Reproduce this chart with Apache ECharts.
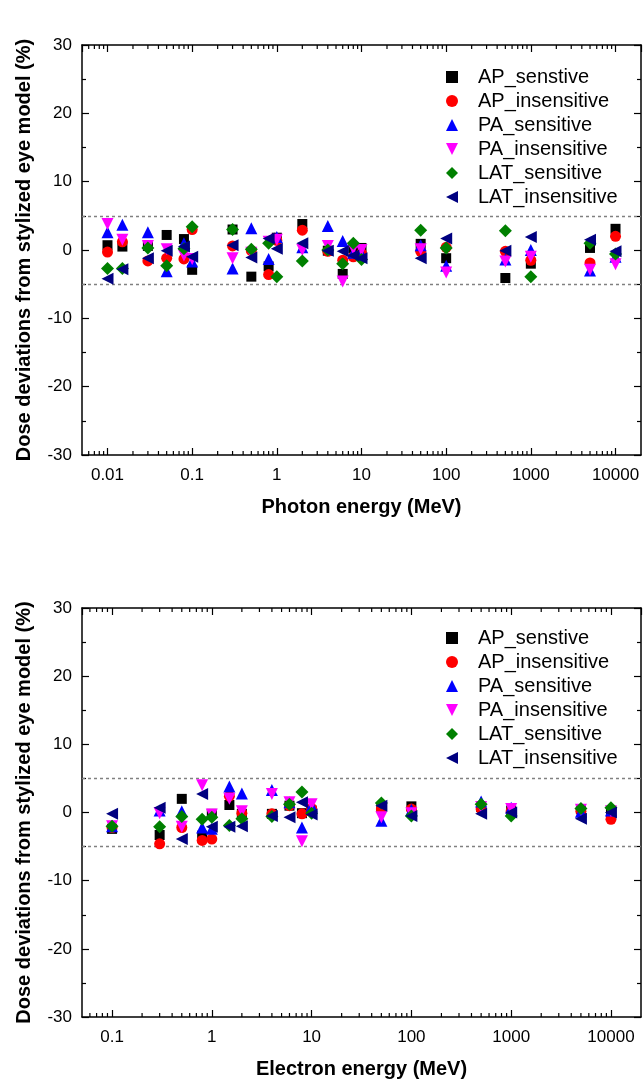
<!DOCTYPE html>
<html>
<head>
<meta charset="utf-8">
<script src="https://cdn.jsdelivr.net/npm/echarts@6/dist/echarts.min.js"></script>
<style>
html,body{margin:0;padding:0;background:#fff;}
#chart{width:644px;height:1084px;}
</style>
</head>
<body>
<div id="chart"></div>
<script>
// ---------- data ----------
const seriesNames = ['AP_senstive','AP_insensitive','PA_sensitive','PA_insensitive','LAT_sensitive','LAT_insensitive'];

// Photon (top panel)
const photonEnergy = [0.01, 0.015, 0.03, 0.05, 0.08, 0.1, 0.3, 0.5, 0.8, 1, 2, 4, 6, 8, 10, 50, 100, 500, 1000, 5000, 10000];
const photonAPs  = [0.7, 0.5, 0.6, 2.2, 1.6, -2.9, 3.0, -3.9, -2.4, 1.8, 3.8, -0.1, -3.5, 0.3, 0.3, 0.9, -1.2, -4.1, -2.0, 0.3, 3.1];
const photonAPi  = [-0.3, 1.2, -1.6, -1.2, -1.3, 3.0, 0.6, -0.1, -3.6, 1.4, 2.9, -0.2, -1.5, -1.0, -0.5, -0.2, 0.4, -0.2, -1.5, -1.9, 2.0];
const photonPAs  = [2.6, 3.7, 2.6, -3.1, 1.0, -1.7, -2.7, 3.2, -1.3, 1.9, 0.4, 3.5, 1.3, -0.4, -0.6, 0.7, -2.3, -1.4, 0.0, -3.0, -1.0];
const photonPAi  = [3.8, 1.5, 0.6, 0.1, -0.8, -1.3, -1.2, -0.4, 1.2, 1.5, 0.0, 0.6, -4.6, 0.2, 0.0, 0.1, -3.3, -1.7, -1.0, -2.9, -2.1];
const photonLATs = [-2.7, -2.7, 0.3, -2.3, 0.2, 3.4, 3.0, 0.1, 1.0, -3.9, -1.6, 0.0, -2.0, 1.0, -1.4, 2.9, 0.3, 2.8, -3.9, 1.0, -0.6];
const photonLATi = [-4.2, -2.8, -1.2, -0.1, 0.5, -1.0, 0.7, -1.1, 1.7, 0.2, 1.0, -0.1, -0.2, -0.8, -1.2, -1.2, 1.7, -0.1, 1.9, 1.5, -0.2];

// Electron (bottom panel)
const electronEnergy = [0.1, 0.3, 0.5, 0.8, 1, 1.5, 2, 4, 6, 8, 10, 50, 100, 500, 1000, 5000, 10000];
const electronAPs  = [-2.4, -3.3, 2.0, -3.4, -0.2, 1.1, -0.2, -0.2, 1.0, -0.1, 0.3, 0.8, 0.9, 0.8, 0.3, 0.5, 0.1];
const electronAPi  = [-2.2, -4.6, -2.2, -4.1, -3.9, 2.4, -0.1, -0.2, 1.0, -0.2, 0.6, 0.5, 0.5, 0.5, 0.2, 0.2, -1.0];
const electronPAs  = [-2.0, 0.3, 0.2, -2.2, -2.4, 3.8, 2.8, 3.3, 1.5, -2.2, 1.0, -1.2, 0.4, 1.6, 0.7, 0.1, 0.3];
const electronPAi  = [-2.0, -0.1, -2.1, 4.0, -0.3, 2.0, 0.2, 2.7, 1.5, -4.2, 1.2, -0.7, -0.1, 0.8, 0.5, 0.4, 0.2];
const electronLATs = [-2.0, -2.1, -0.6, -1.0, -0.7, -1.9, -0.9, -0.6, 1.2, 3.0, -0.1, 1.4, -0.5, 1.2, -0.5, 0.6, 0.7];
const electronLATi = [-0.2, 0.7, -3.9, 2.7, -2.1, -2.1, -2.0, -0.5, -0.7, 1.5, -0.3, 1.0, -0.5, -0.2, 0.0, -0.9, 0.0];

// axis settings
const yMin = -30, yMax = 30, yInterval = 10;
const refLines = [5, -5];
const photonXRange = [0.005, 20000];
const electronXRange = [0.05, 20000];
const xTitles = ['Photon energy (MeV)', 'Electron energy (MeV)'];
const yTitle = 'Dose deviations from stylized eye model (%)';

// ---------- styles ----------
const DOWN_TRI = 'path://M0,0 L10,0 L5,10 Z';
const LEFT_TRI = 'path://M10,0 L10,10 L0,5 Z';
const styles = [
  {symbol:'rect', size:10, rotate:0, color:'#000000', icon:'rect'},
  {symbol:'circle', size:11, rotate:0, color:'#ff0000', icon:'circle'},
  {symbol:'triangle', size:12, rotate:0, color:'#0000ff', icon:'triangle'},
  {symbol:'triangle', size:12, rotate:180, color:'#ff00ff', icon:DOWN_TRI},
  {symbol:'diamond', size:13, rotate:0, color:'#008000', icon:'diamond'},
  {symbol:'triangle', size:12, rotate:90, color:'#000080', icon:LEFT_TRI}
];
const FONT = 'Liberation Sans, Arial, sans-serif';

function minorTickValues(range){
  const out = [];
  for (let p = -4; p <= 5; p++){
    for (let m = 2; m <= 9; m++){
      const v = parseFloat((m * Math.pow(10, p)).toPrecision(6));
      if (v > range[0] && v < range[1]) out.push([v, 0]);
    }
  }
  return out;
}

const grids = [
  {left:82, right:3, top:45, height:410},
  {left:82, right:3, top:608, height:409}
];

const xAxes = [], yAxes = [], series = [], legends = [];
const axisLineStyle = {color:'#000', width:1.5};

function fmtLog(v){ return String(parseFloat(Number(v).toPrecision(6))); }

[photonXRange, electronXRange].forEach((range, g) => {
  xAxes.push({
    type:'log', logBase:10, gridIndex:g, position:'bottom', min:range[0], max:range[1],
    name:xTitles[g], nameLocation:'middle', nameGap:42,
    nameTextStyle:{fontFamily:FONT, fontSize:20, fontWeight:'bold', color:'#000'},
    axisLine:{show:true, onZero:false, lineStyle:axisLineStyle},
    axisTick:{show:true, inside:true, length:7, lineStyle:{color:'#000', width:1.2}},
    axisLabel:{show:true, margin:12, fontFamily:FONT, fontSize:17, color:'#000', formatter:fmtLog, showMinLabel:false, showMaxLabel:false},
    splitLine:{show:false}
  });
  xAxes.push({
    type:'log', logBase:10, gridIndex:g, position:'top', min:range[0], max:range[1],
    axisLine:{show:true, onZero:false, lineStyle:axisLineStyle},
    axisTick:{show:true, inside:true, length:7, lineStyle:{color:'#000', width:1.2}},
    axisLabel:{show:false}, splitLine:{show:false}
  });
  yAxes.push({
    type:'value', gridIndex:g, position:'left', min:yMin, max:yMax, interval:yInterval,
    name:yTitle, nameLocation:'middle', nameGap:48,
    nameTextStyle:{fontFamily:FONT, fontSize:20, fontWeight:'bold', color:'#000'},
    axisLine:{show:true, onZero:false, lineStyle:axisLineStyle},
    axisTick:{show:true, inside:true, length:7, lineStyle:{color:'#000', width:1.2}},
    minorTick:{show:true, splitNumber:2, length:4, lineStyle:{color:'#000', width:1.2}},
    axisLabel:{show:true, margin:10, fontFamily:FONT, fontSize:17, color:'#000'},
    splitLine:{show:false}
  });
  yAxes.push({
    type:'value', gridIndex:g, position:'right', min:yMin, max:yMax, interval:yInterval,
    axisLine:{show:true, onZero:false, lineStyle:axisLineStyle},
    axisTick:{show:true, inside:true, length:7, lineStyle:{color:'#000', width:1.2}},
    minorTick:{show:true, splitNumber:2, length:4, lineStyle:{color:'#000', width:1.2}},
    axisLabel:{show:false}, splitLine:{show:false}
  });

  // minor log ticks (bottom & top), positioned by the axis scale
  series.push({
    type:'custom', xAxisIndex:g*2, yAxisIndex:g*2, silent:true, clip:false, z:5,
    data:minorTickValues(range),
    encode:{x:0, y:1},
    renderItem:(params, api) => {
      const v = api.value(0);
      const b = api.coord([v, yMin]);
      const t = api.coord([v, yMax]);
      return {type:'group', children:[
        {type:'line', shape:{x1:b[0], y1:b[1], x2:b[0], y2:b[1]-4}, style:{stroke:'#000', lineWidth:1.2}},
        {type:'line', shape:{x1:t[0], y1:t[1], x2:t[0], y2:t[1]+4}, style:{stroke:'#000', lineWidth:1.2}}
      ]};
    }
  });
});

const panelData = [
  {x:photonEnergy, ys:[photonAPs, photonAPi, photonPAs, photonPAi, photonLATs, photonLATi]},
  {x:electronEnergy, ys:[electronAPs, electronAPi, electronPAs, electronPAi, electronLATs, electronLATi]}
];

panelData.forEach((pd, g) => {
  pd.ys.forEach((arr, i) => {
    const st = styles[i];
    const s = {
      type:'scatter', name:seriesNames[i], xAxisIndex:g*2, yAxisIndex:g*2,
      symbol:st.symbol, symbolSize:st.size, symbolRotate:st.rotate,
      itemStyle:{color:st.color, opacity:1},
      data:pd.x.map((e, k) => [e, arr[k]]),
      z:10+i
    };
    if (i === 0){
      s.markLine = {
        silent:true, symbol:'none', animation:false,
        label:{show:false},
        lineStyle:{color:'#808080', type:[3,3], width:1.3},
        data:refLines.map(v => ({yAxis:v}))
      };
    }
    series.push(s);
  });
  legends.push({
    orient:'vertical', left:441, top: g === 0 ? 62 : 623,
    itemWidth:12, itemHeight:12, itemGap:4, symbolKeepAspect:true,
    data:seriesNames.map((n, i) => ({name:n, icon:styles[i].icon})),
    textStyle:{fontFamily:FONT, fontSize:20, color:'#000', lineHeight:20, padding:[0,0,0,15]},
    selectedMode:false
  });
});

const chart = echarts.init(document.getElementById('chart'), null, {renderer:'canvas'});
chart.setOption({
  animation:false,
  backgroundColor:'#fff',
  grid:grids,
  xAxis:xAxes,
  yAxis:yAxes,
  legend:legends,
  series:series
});
</script>
</body>
</html>
